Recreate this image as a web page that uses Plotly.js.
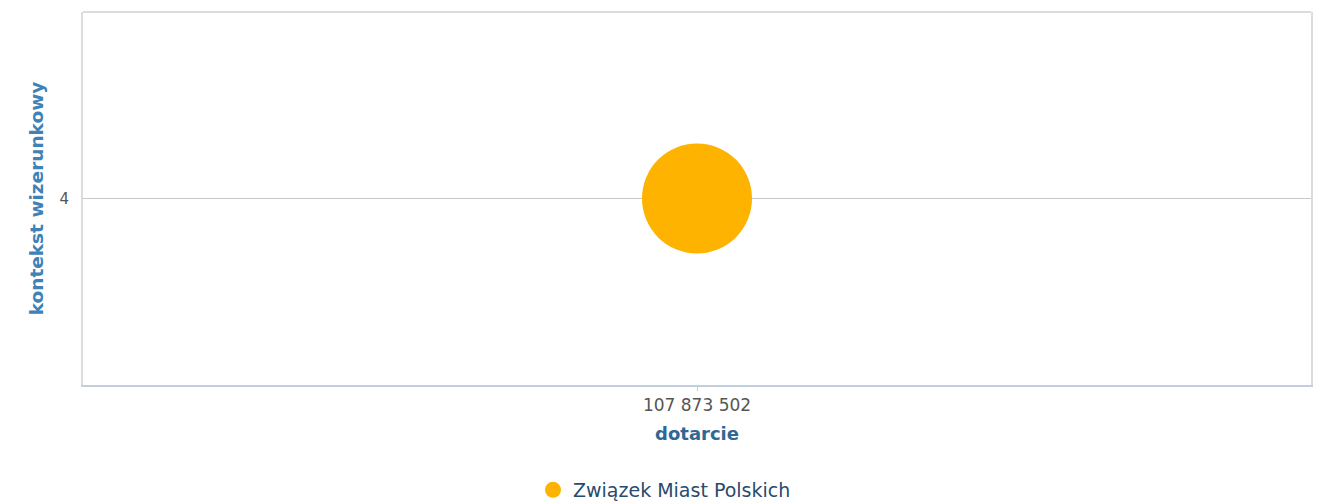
<!DOCTYPE html>
<html>
<head>
<meta charset="utf-8">
<script src="https://cdn.plot.ly/plotly-3.0.1.min.js"></script>
<style>html,body{margin:0;padding:0;background:#fff;}#chart{width:1329px;height:504px;}</style>
</head>
<body>
<div id="chart"></div>
<script>
const seriesNames = ["Związek Miast Polskich"];
const reachValues = [107873502];
const imageContext = [4];
const xTickVals = [107873502];
const xTickText = ["107 873 502"];
const yTickVals = [4];
const yTickText = ["4"];

const FONT = "DejaVu Sans, Verdana, sans-serif";

const trace = {
  type: "scatter",
  mode: "markers",
  name: seriesNames[0],
  x: reachValues,
  y: imageContext,
  marker: {color: "#FDB300", size: 110, line: {width: 0}, opacity: 1},
  hoverinfo: "x+y+name"
};

const layout = {
  width: 1329, height: 504,
  margin: {l: 83, r: 18, t: 12, b: 119},
  paper_bgcolor: "#ffffff",
  plot_bgcolor: "#ffffff",
  showlegend: true,
  font: {family: FONT},
  xaxis: {
    range: [reachValues[0] - 1, reachValues[0] + 1],
    tickvals: xTickVals, ticktext: xTickText,
    showgrid: false, zeroline: false,
    showline: true, linecolor: "#c0d0e0", linewidth: 1.5,
    ticks: "outside", ticklen: 4, tickcolor: "#c0d0e0",
    tickfont: {size: 17, color: "#555555", family: FONT},
    title: {text: "dotarcie", font: {size: 18, color: "#2f6795", family: FONT, weight: "bold"}, standoff: 13},
    automargin: false, fixedrange: true
  },
  yaxis: {
    range: [3, 5],
    tickvals: yTickVals, ticktext: yTickText,
    showgrid: true, gridcolor: "#c8c8c8", gridwidth: 1.5,
    zeroline: false,
    showline: true, mirror: true, linecolor: "#dcdcdc", linewidth: 2,
    ticks: "", ticklabelstandoff: 9,
    tickfont: {size: 15, color: "#555555", family: FONT},
    title: {text: "kontekst wizerunkowy", font: {size: 18.5, color: "#3e82b8", family: FONT, weight: "bold"}, standoff: 11},
    automargin: false, fixedrange: true
  },
  shapes: [{
    type: "line", xref: "paper", yref: "paper", x0: 0, x1: 1, y0: 1, y1: 1,
    line: {color: "#dcdcdc", width: 2}
  }],
  legend: {
    orientation: "h", xref: "container", yref: "container",
    x: 0.5, xanchor: "center", y: 14/504, yanchor: "middle",
    font: {size: 19, color: "#274b6d", family: FONT},
    itemsizing: "trace", bgcolor: "rgba(0,0,0,0)"
  }
};

Plotly.newPlot("chart", [trace], layout, {displayModeBar: false, staticPlot: true});
</script>
</body>
</html>
